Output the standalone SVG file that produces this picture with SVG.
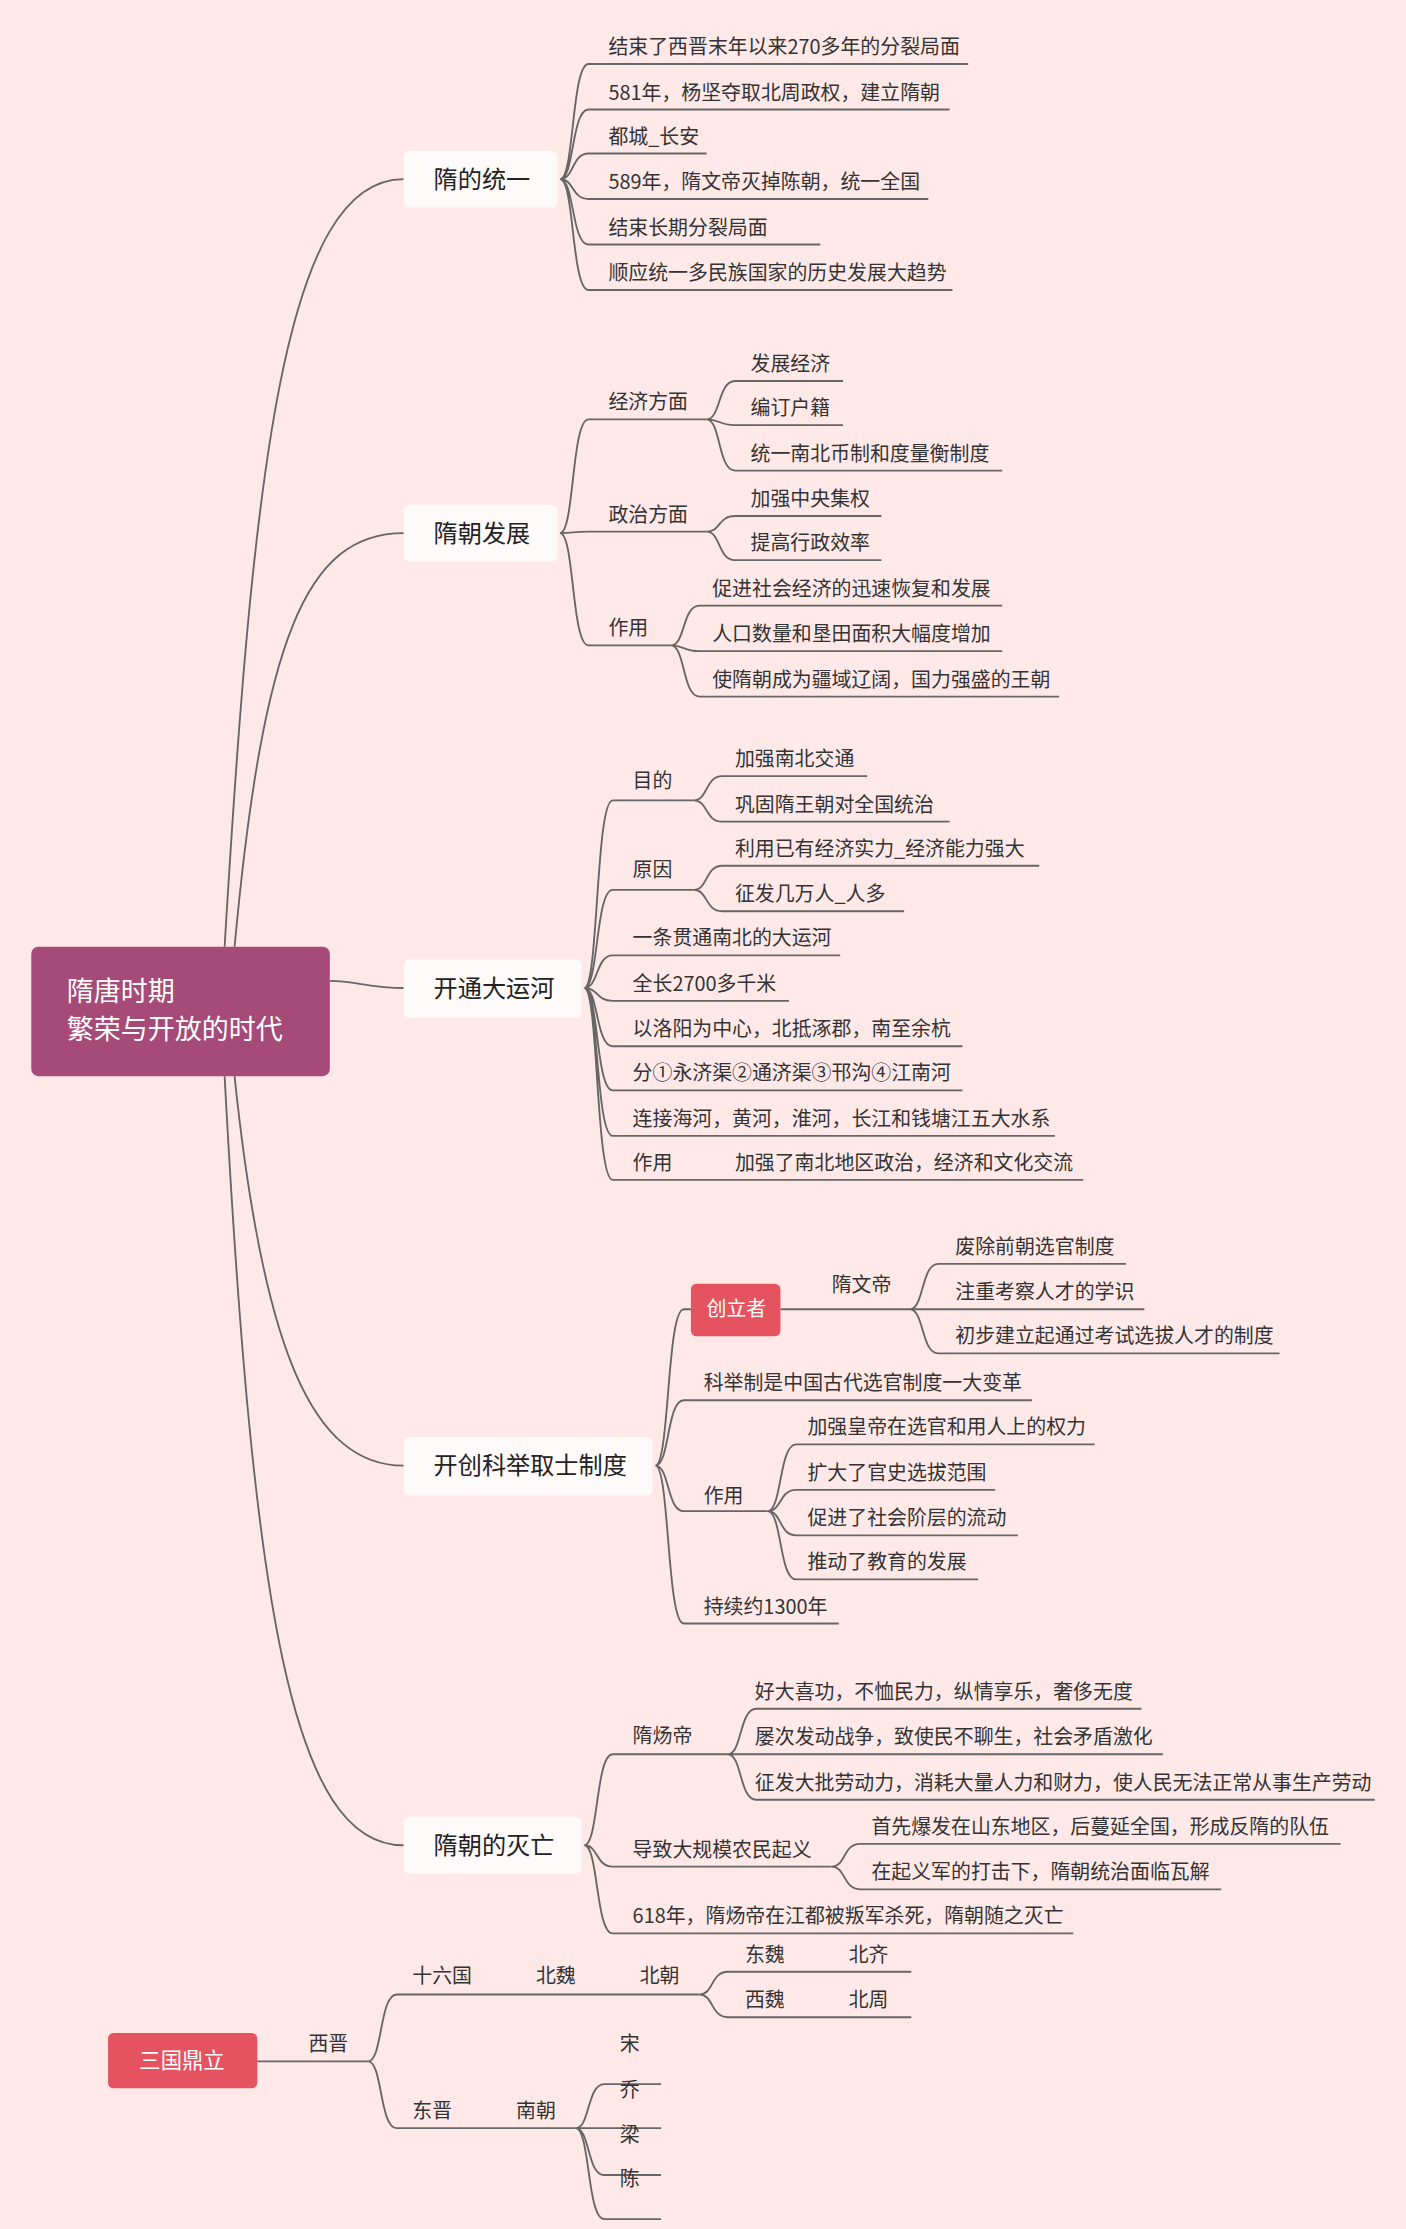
<svg xmlns="http://www.w3.org/2000/svg" width="1406" height="2229" viewBox="0 0 1406 2229">
<style>
.c{fill:none;stroke:#666;stroke-width:1.3}
.t{font-family:"Noto Sans CJK SC","Noto Sans",sans-serif;font-size:14px;fill:#333}
.tp{font-family:"Noto Sans CJK SC","Noto Sans",sans-serif;font-size:17px;fill:#222}
.w{font-family:"Noto Sans CJK SC","Noto Sans",sans-serif;fill:#fff}
.box{fill:#fffafa}
</style>
<rect width="1406" height="2229" fill="#ffe9e8"/>
<g transform="scale(1.4216)">
<g id="connectors">
<path class="c" d="M158,666 C178,330 200,126 284,126"/>
<path class="c" d="M165,666 C185,450 215,375 284,375"/>
<path class="c" d="M232,690 C250,690 260,695 284,695"/>
<path class="c" d="M165,757 C185,950 220,1031 284,1031"/>
<path class="c" d="M158,757 C178,1130 205,1298 284,1298"/>
<!-- 隋的统一 -->
<path class="c" d="M394,126 C404,126 402,45 414,45 L681,45 M394,126 C404,126 402,77 414,77 L668,77 M394,126 C404,126 402,108 414,108 L497,108 M394,126 C404,126 402,140 414,140 L653,140 M394,126 C404,126 402,172 414,172 L577,172 M394,126 C404,126 402,204 414,204 L670,204"/>
<!-- 隋朝发展 -->
<path class="c" d="M394,375 C404,375 402,295 414,295 L497,295 M394,375 C404,375 402,374 414,374 L497,374 M394,375 C404,375 402,454 414,454 L472,454"/>
<path class="c" d="M497,295 C507,295 505,268 517,268 L593,268 M497,295 C507,295 505,299 517,299 L593,299 M497,295 C507,295 505,331 517,331 L705,331"/>
<path class="c" d="M497,374 C507,374 505,363 517,363 L620,363 M497,374 C507,374 505,394 517,394 L620,394"/>
<path class="c" d="M472,454 C482,454 480,426 492,426 L705,426 M472,454 C482,454 480,458 492,458 L705,458 M472,454 C482,454 480,490 492,490 L745,490"/>
<!-- 开通大运河 -->
<path class="c" d="M411,695 C421,695 419,563 431,563 L488,563 M411,695 C421,695 419,626 431,626 L488,626 M411,695 C421,695 419,672 431,672 L591,672 M411,695 C421,695 419,704 431,704 L555,704 M411,695 C421,695 419,736 431,736 L677,736 M411,695 C421,695 419,767 431,767 L677,767 M411,695 C421,695 419,799 431,799 L742,799 M411,695 C421,695 419,830 431,830 L762,830"/>
<path class="c" d="M488,563 C498,563 496,546 508,546 L610,546 M488,563 C498,563 496,578 508,578 L668,578"/>
<path class="c" d="M488,626 C498,626 496,609 508,609 L731,609 M488,626 C498,626 496,641 508,641 L636,641"/>
<!-- 科举 -->
<path class="c" d="M461,1031 C471,1031 469,921 481,921 L486,921 M461,1031 C471,1031 469,985 481,985 L726,985 M461,1031 C471,1031 469,1063 481,1063 L540,1063 M461,1031 C471,1031 469,1142 481,1142 L590,1142"/>
<path class="c" d="M549,921 L640,921 M640,921 C650,921 648,889 660,889 L792,889 M640,921 L805,921 M640,921 C650,921 648,952 660,952 L900,952"/>
<path class="c" d="M540,1063 C550,1063 548,1016 560,1016 L770,1016 M540,1063 C550,1063 548,1048 560,1048 L700,1048 M540,1063 C550,1063 548,1080 560,1080 L716,1080 M540,1063 C550,1063 548,1111 560,1111 L688,1111"/>
<!-- 灭亡 -->
<path class="c" d="M411,1298 C421,1298 419,1234 431,1234 L512,1234 M411,1298 C421,1298 419,1313 431,1313 L585,1313 M411,1298 C421,1298 419,1360 431,1360 L755,1360"/>
<path class="c" d="M512,1234 C522,1234 520,1202 532,1202 L803,1202 M512,1234 L818,1234 M512,1234 C522,1234 520,1266 532,1266 L967,1266"/>
<path class="c" d="M585,1313 C595,1313 593,1297 605,1297 L943,1297 M585,1313 C595,1313 593,1329 605,1329 L859,1329"/>
<!-- 三国鼎立 -->
<path class="c" d="M181,1450 L259,1450 M259,1450 C269,1450 267,1403 279,1403 L492,1403 M259,1450 C269,1450 267,1497 279,1497 L405,1497"/>
<path class="c" d="M492,1403 C502,1403 500,1387 512,1387 L641,1387 M492,1403 C502,1403 500,1419 512,1419 L641,1419"/>
<path class="c" d="M405,1497 C415,1497 413,1466 425,1466 L465,1466 M405,1497 L465,1497 M405,1497 C415,1497 413,1530 425,1530 L465,1530 M405,1497 C415,1497 413,1561 425,1561 L465,1561"/>
</g>
<g id="root"><rect x="22" y="666" width="210" height="91" rx="5" fill="#a64a78"/><text class="w" font-size="19" x="47" y="704">隋唐时期</text><text class="w" font-size="19" x="47" y="731">繁荣与开放的时代</text></g>
<g id="t1"><rect class="box" x="284" y="106" width="108" height="40" rx="4"/><text class="tp" x="305" y="132">隋的统一</text></g>
<g id="t2"><rect class="box" x="284" y="355" width="108" height="40" rx="4"/><text class="tp" x="305" y="381">隋朝发展</text></g>
<g id="t3"><rect class="box" x="284" y="675" width="125" height="41" rx="4"/><text class="tp" x="305" y="701">开通大运河</text></g>
<g id="t4"><rect class="box" x="284" y="1011" width="175" height="41" rx="4"/><text class="tp" x="305" y="1037">开创科举取士制度</text></g>
<g id="t5"><rect class="box" x="284" y="1278" width="125" height="40" rx="4"/><text class="tp" x="305" y="1304">隋朝的灭亡</text></g>
<g id="cl"><rect x="486" y="903" width="63" height="37" rx="4" fill="#e55361"/><text class="w" font-size="14" x="497" y="926">创立者</text></g>
<g id="sg"><rect x="76" y="1430" width="105" height="39" rx="4" fill="#e55361"/><text class="w" font-size="15" x="128" y="1455" text-anchor="middle">三国鼎立</text></g>
<g id="labels">
<text class="t" x="428" y="38">结束了西晋末年以来270多年的分裂局面</text>
<text class="t" x="428" y="70">581年，杨坚夺取北周政权，建立隋朝</text>
<text class="t" x="428" y="101">都城_长安</text>
<text class="t" x="428" y="133">589年，隋文帝灭掉陈朝，统一全国</text>
<text class="t" x="428" y="165">结束长期分裂局面</text>
<text class="t" x="428" y="197">顺应统一多民族国家的历史发展大趋势</text>
<text class="t" x="428" y="288">经济方面</text>
<text class="t" x="428" y="367">政治方面</text>
<text class="t" x="428" y="447">作用</text>
<text class="t" x="528" y="261">发展经济</text>
<text class="t" x="528" y="292">编订户籍</text>
<text class="t" x="528" y="324">统一南北币制和度量衡制度</text>
<text class="t" x="528" y="356">加强中央集权</text>
<text class="t" x="528" y="387">提高行政效率</text>
<text class="t" x="501" y="419">促进社会经济的迅速恢复和发展</text>
<text class="t" x="501" y="451">人口数量和垦田面积大幅度增加</text>
<text class="t" x="501" y="483">使隋朝成为疆域辽阔，国力强盛的王朝</text>
<text class="t" x="445" y="554">目的</text>
<text class="t" x="445" y="617">原因</text>
<text class="t" x="517" y="539">加强南北交通</text>
<text class="t" x="517" y="571">巩固隋王朝对全国统治</text>
<text class="t" x="517" y="602">利用已有经济实力_经济能力强大</text>
<text class="t" x="517" y="634">征发几万人_人多</text>
<text class="t" x="445" y="665">一条贯通南北的大运河</text>
<text class="t" x="445" y="697">全长2700多千米</text>
<text class="t" x="445" y="729">以洛阳为中心，北抵涿郡，南至余杭</text>
<text class="t" x="445" y="760">分①永济渠②通济渠③邗沟④江南河</text>
<text class="t" x="445" y="792">连接海河，黄河，淮河，长江和钱塘江五大水系</text>
<text class="t" x="445" y="823">作用</text>
<text class="t" x="517" y="823">加强了南北地区政治，经济和文化交流</text>
<text class="t" x="585" y="909">隋文帝</text>
<text class="t" x="672" y="882">废除前朝选官制度</text>
<text class="t" x="672" y="914">注重考察人才的学识</text>
<text class="t" x="672" y="945">初步建立起通过考试选拔人才的制度</text>
<text class="t" x="495" y="978">科举制是中国古代选官制度一大变革</text>
<text class="t" x="495" y="1057">作用</text>
<text class="t" x="568" y="1009">加强皇帝在选官和用人上的权力</text>
<text class="t" x="568" y="1041">扩大了官史选拔范围</text>
<text class="t" x="568" y="1073">促进了社会阶层的流动</text>
<text class="t" x="568" y="1104">推动了教育的发展</text>
<text class="t" x="495" y="1135">持续约1300年</text>
<text class="t" x="445" y="1226">隋炀帝</text>
<text class="t" x="531" y="1195">好大喜功，不恤民力，纵情享乐，奢侈无度</text>
<text class="t" x="531" y="1227">屡次发动战争，致使民不聊生，社会矛盾激化</text>
<text class="t" x="531" y="1259">征发大批劳动力，消耗大量人力和财力，使人民无法正常从事生产劳动</text>
<text class="t" x="445" y="1306">导致大规模农民起义</text>
<text class="t" x="613" y="1290">首先爆发在山东地区，后蔓延全国，形成反隋的队伍</text>
<text class="t" x="613" y="1322">在起义军的打击下，隋朝统治面临瓦解</text>
<text class="t" x="445" y="1353">618年，隋炀帝在江都被叛军杀死，隋朝随之灭亡</text>
<text class="t" x="217" y="1443">西晋</text>
<text class="t" x="290" y="1395">十六国</text>
<text class="t" x="377" y="1395">北魏</text>
<text class="t" x="450" y="1395">北朝</text>
<text class="t" x="524" y="1380">东魏</text>
<text class="t" x="597" y="1380">北齐</text>
<text class="t" x="524" y="1412">西魏</text>
<text class="t" x="597" y="1412">北周</text>
<text class="t" x="290" y="1490">东晋</text>
<text class="t" x="363" y="1490">南朝</text>
<text class="t" x="436" y="1443">宋</text>
<text class="t" x="436" y="1475">乔</text>
<text class="t" x="436" y="1507">梁</text>
<text class="t" x="436" y="1538">陈</text>
</g>
</g>
</svg>
